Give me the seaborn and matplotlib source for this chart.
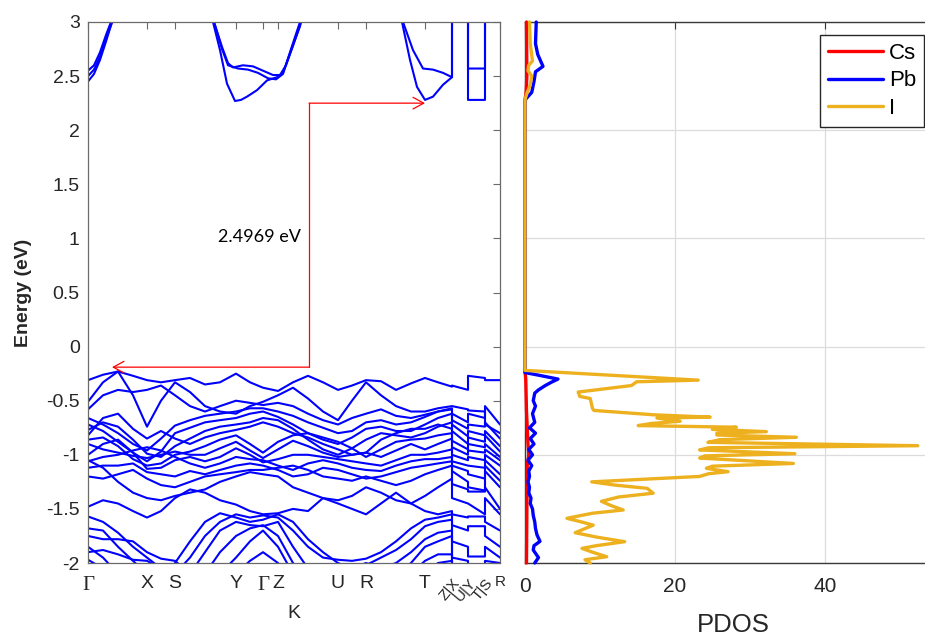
import numpy as np
import pandas as pd
import matplotlib
matplotlib.use("Agg")
import matplotlib.pyplot as plt
import seaborn as sns

# ---------------- data ----------------
K_TICKS = [0.0, 0.59, 0.87, 1.48, 1.75, 1.90, 2.50, 2.78, 3.37, 3.64, 3.80, 3.97, 4.12]
K_LABELS = ["Γ", "X", "S", "Y", "Γ", "Z", "U", "R", "T", "Z|X", "U|Y", "T|S", "R"]

# main path columns (Γ ... Z|X) and the short broken segments (X-U | U-T | S-R)
K_MAIN = [0.00, 0.15, 0.30, 0.45, 0.59, 0.73, 0.87, 1.02, 1.17, 1.32, 1.48, 1.62, 1.75,
          1.90, 2.05, 2.20, 2.35, 2.50, 2.64, 2.78, 2.93, 3.08, 3.23, 3.37, 3.50, 3.64]
K_TAIL = [3.64, 3.80, 3.80, 3.97, 3.97, 4.12]

# valence bands: energies (eV) along K_MAIN
VB_MAIN = [
    [-0.31, -0.26, -0.23, -0.27, -0.31, -0.33, -0.31, -0.29, -0.35, -0.33, -0.25, -0.33, -0.38, -0.41, -0.33, -0.27, -0.33, -0.40, -0.36, -0.31, -0.32, -0.40, -0.34, -0.29, -0.33, -0.37],
    [-0.51, -0.33, -0.23, -0.45, -0.74, -0.50, -0.33, -0.42, -0.55, -0.60, -0.62, -0.55, -0.51, -0.45, -0.38, -0.48, -0.60, -0.68, -0.50, -0.33, -0.45, -0.55, -0.60, -0.60, -0.57, -0.55],
    [-0.58, -0.45, -0.40, -0.42, -0.40, -0.36, -0.45, -0.55, -0.60, -0.55, -0.50, -0.52, -0.54, -0.52, -0.55, -0.62, -0.68, -0.72, -0.66, -0.62, -0.58, -0.64, -0.66, -0.63, -0.60, -0.58],
    [-0.66, -0.72, -0.80, -0.90, -0.96, -0.85, -0.73, -0.68, -0.64, -0.62, -0.60, -0.57, -0.57, -0.60, -0.64, -0.70, -0.75, -0.80, -0.78, -0.70, -0.68, -0.72, -0.70, -0.65, -0.60, -0.57],
    [-0.72, -0.78, -0.88, -0.98, -1.06, -0.97, -0.80, -0.75, -0.70, -0.68, -0.66, -0.62, -0.60, -0.65, -0.72, -0.80, -0.86, -0.90, -0.84, -0.76, -0.74, -0.78, -0.78, -0.72, -0.66, -0.62],
    [-0.77, -0.70, -0.74, -0.86, -0.99, -1.02, -0.92, -0.85, -0.78, -0.74, -0.72, -0.70, -0.66, -0.68, -0.76, -0.86, -0.95, -1.00, -0.94, -0.86, -0.80, -0.82, -0.84, -0.80, -0.74, -0.70],
    [-0.82, -0.66, -0.62, -0.76, -0.85, -0.78, -0.85, -0.90, -0.84, -0.80, -0.77, -0.74, -0.70, -0.74, -0.80, -0.84, -0.90, -0.95, -1.00, -0.98, -0.86, -0.80, -0.76, -0.76, -0.72, -0.76],
    [-0.86, -0.84, -0.92, -1.04, -1.10, -1.08, -1.00, -0.97, -0.92, -0.86, -0.82, -0.90, -0.98, -0.88, -0.82, -0.80, -0.84, -0.88, -0.94, -1.02, -0.95, -0.88, -0.86, -0.85, -0.82, -0.80],
    [-0.90, -0.95, -0.98, -1.01, -1.03, -1.00, -0.97, -1.00, -1.00, -0.94, -0.88, -0.96, -1.03, -0.95, -0.87, -0.92, -0.98, -1.02, -1.00, -0.98, -1.02, -0.96, -0.90, -0.95, -0.90, -0.85],
    [-1.00, -0.90, -0.86, -0.98, -1.13, -1.12, -1.05, -1.02, -1.06, -1.02, -0.94, -1.00, -1.07, -1.04, -1.00, -1.00, -1.02, -1.04, -1.06, -1.08, -1.10, -1.05, -1.00, -1.00, -0.98, -0.95],
    [-1.06, -1.02, -1.00, -0.96, -0.93, -0.96, -1.02, -1.08, -1.12, -1.08, -1.02, -1.04, -1.05, -1.10, -1.14, -1.08, -1.05, -1.08, -1.12, -1.14, -1.15, -1.10, -1.06, -1.04, -1.04, -1.02],
    [-1.12, -1.10, -1.10, -1.08, -1.16, -1.18, -1.20, -1.15, -1.18, -1.14, -1.10, -1.08, -1.10, -1.14, -1.20, -1.18, -1.12, -1.14, -1.18, -1.22, -1.20, -1.16, -1.12, -1.10, -1.08, -1.06],
    [-1.20, -1.22, -1.18, -1.14, -1.22, -1.28, -1.30, -1.25, -1.20, -1.18, -1.16, -1.14, -1.14, -1.12, -1.10, -1.14, -1.20, -1.22, -1.24, -1.20, -1.24, -1.28, -1.24, -1.18, -1.14, -1.10],
    [-1.05, -1.12, -1.25, -1.35, -1.40, -1.42, -1.38, -1.35, -1.32, -1.25, -1.20, -1.16, -1.18, -1.20, -1.30, -1.35, -1.40, -1.42, -1.38, -1.30, -1.35, -1.42, -1.45, -1.38, -1.30, -1.22],
    [-1.48, -1.42, -1.45, -1.52, -1.58, -1.52, -1.40, -1.32, -1.35, -1.42, -1.46, -1.52, -1.55, -1.54, -1.50, -1.52, -1.40, -1.45, -1.50, -1.55, -1.45, -1.35, -1.45, -1.52, -1.55, -1.52],
    [-1.57, -1.62, -1.72, -1.85, -1.95, -2.05, -2.10, -1.95, -1.75, -1.62, -1.55, -1.58, -1.56, -1.58, -1.70, -1.85, -1.95, -1.97, -1.98, -1.96, -1.90, -1.80, -1.68, -1.60, -1.58, -1.55],
    [-1.68, -1.70, -1.85, -1.98, -2.10, -2.15, -2.00, -1.80, -1.62, -1.54, -1.58, -1.62, -1.60, -1.55, -1.62, -1.78, -1.90, -2.00, -2.05, -2.02, -1.95, -1.88, -1.78, -1.66, -1.62, -1.60],
    [-1.75, -1.78, -1.78, -1.80, -1.90, -1.96, -1.98, -2.10, -1.90, -1.70, -1.62, -1.65, -1.66, -1.62, -1.85, -2.05, -2.10, -2.10, -2.05, -2.00, -2.05, -2.00, -1.90, -1.78, -1.72, -1.70],
    [-1.85, -1.95, -2.10, -2.20, -2.20, -2.20, -2.15, -2.05, -2.10, -1.90, -1.75, -1.68, -1.65, -1.75, -2.00, -2.20, -2.20, -2.20, -2.20, -2.20, -2.20, -2.10, -2.00, -1.85, -1.80, -1.75],
    [-1.90, -1.88, -1.92, -1.97, -1.98, -2.05, -2.15, -2.20, -2.20, -2.10, -1.95, -1.80, -1.70, -1.85, -2.10, -2.20, -2.20, -2.20, -2.20, -2.20, -2.20, -2.20, -2.10, -1.98, -1.92, -1.92],
    [-1.97, -2.05, -2.20, -2.20, -2.20, -2.20, -2.20, -2.20, -2.20, -2.20, -2.10, -1.98, -1.90, -2.00, -2.20, -2.20, -2.20, -2.20, -2.20, -2.20, -2.20, -2.20, -2.20, -2.10, -2.00, -1.98],
]
# valence bands: energies (eV) along K_TAIL
VB_TAIL = [
    [-0.36, -0.40, -0.27, -0.29, -0.31, -0.31],
    [-0.55, -0.58, -0.59, -0.60, -0.72, -0.80],
    [-0.62, -0.70, -0.62, -0.66, -0.55, -0.72],
    [-0.68, -0.76, -0.72, -0.74, -0.70, -0.85],
    [-0.72, -0.83, -0.78, -0.82, -0.78, -0.92],
    [-0.78, -0.90, -0.84, -0.88, -0.82, -0.97],
    [-0.87, -0.95, -0.90, -0.93, -0.90, -1.02],
    [-0.93, -1.00, -0.96, -0.98, -0.95, -1.05],
    [-1.00, -1.05, -1.02, -1.05, -1.00, -1.10],
    [-1.06, -1.10, -1.10, -1.12, -1.05, -1.18],
    [-1.10, -1.15, -1.18, -1.22, -1.10, -1.24],
    [-1.15, -1.25, -1.30, -1.33, -1.15, -1.30],
    [-1.27, -1.32, -1.34, -1.34, -1.30, -1.50],
    [-1.40, -1.45, -1.45, -1.55, -1.40, -1.55],
    [-1.55, -1.58, -1.57, -1.57, -1.62, -1.70],
    [-1.65, -1.70, -1.66, -1.66, -1.75, -1.85],
    [-1.80, -1.85, -1.94, -1.94, -1.85, -1.95],
    [-1.95, -1.98, -2.10, -2.10, -1.98, -2.00],
    [-2.05, -2.10, -2.15, -2.15, -2.10, -2.10],
    [-2.10, -2.15, -2.20, -2.20, -2.15, -2.15],
    [-2.15, -2.20, -2.20, -2.20, -2.20, -2.20],
]

# conduction bands (k, E) read individually
CB_G1_K = [0.00, 0.06, 0.12, 0.18, 0.24, 0.30]
CB_G1_E = [2.45, 2.52, 2.65, 2.82, 3.00, 3.20]
CB_G2_K = [0.00, 0.06, 0.12, 0.18, 0.25, 0.30]
CB_G2_E = [2.50, 2.56, 2.68, 2.85, 3.02, 3.20]
CB_G3_K = [0.00, 0.06, 0.12, 0.18, 0.25, 0.30]
CB_G3_E = [2.55, 2.60, 2.72, 2.88, 3.05, 3.20]
CB_Y1_K = [1.17, 1.25, 1.32, 1.39, 1.47, 1.53, 1.59, 1.69, 1.79, 1.89, 1.95, 2.02, 2.12, 2.20]
CB_Y1_E = [3.30, 3.00, 2.74, 2.43, 2.27, 2.28, 2.31, 2.37, 2.46, 2.49, 2.53, 2.71, 2.96, 3.30]
CB_Y2_K = [1.17, 1.26, 1.34, 1.40, 1.45, 1.55, 1.65, 1.75, 1.85, 1.92, 1.98, 2.05, 2.13, 2.20]
CB_Y2_E = [3.30, 3.00, 2.77, 2.62, 2.58, 2.60, 2.59, 2.55, 2.51, 2.51, 2.60, 2.78, 3.00, 3.30]
CB_Y3_K = [1.17, 1.26, 1.34, 1.40, 1.50, 1.60, 1.70, 1.80, 1.88, 1.95, 2.03, 2.12, 2.20]
CB_Y3_E = [3.30, 3.00, 2.75, 2.60, 2.57, 2.56, 2.53, 2.48, 2.47, 2.52, 2.75, 3.00, 3.30]
CB_T1_K = [3.05, 3.14, 3.22, 3.29, 3.37, 3.45, 3.55, 3.64, 3.64, 3.80, 3.80, 3.97, 3.97, 4.12]
CB_T1_E = [3.30, 3.00, 2.65, 2.40, 2.28, 2.31, 2.42, 2.49, 3.30, 3.30, 2.28, 2.28, 3.30, 3.30]
CB_T2_K = [3.05, 3.15, 3.25, 3.35, 3.45, 3.55, 3.64, 3.64, 3.80, 3.80, 3.97, 3.97, 4.12]
CB_T2_E = [3.30, 3.00, 2.74, 2.57, 2.56, 2.53, 2.49, 3.40, 3.40, 2.57, 2.57, 3.40, 3.40]

Y_TICKS = [-2, -1.5, -1, -0.5, 0, 0.5, 1, 1.5, 2, 2.5, 3]
Y_TICK_LABELS = ["-2", "-1.5", "-1", "-0.5", "0", "0.5", "1", "1.5", "2", "2.5", "3"]

GAP_TEXT = "2.4969 eV"

# PDOS (energy, states)
CS_E = [3.00, 2.50, 2.35, 2.28, -0.23, -0.30, -0.60, -0.90, -1.00, -1.10, -1.50, -2.00]
CS_DOS = [0.2, 0.25, 0.15, 0.0, 0.0, 0.1, 0.2, 0.4, 0.5, 0.3, 0.25, 0.2]

PB_E = [3.00, 2.80, 2.70, 2.59, 2.54, 2.45, 2.35, 2.28, -0.24, -0.26, -0.30, -0.33, -0.36, -0.40,
        -0.43, -0.50, -0.55, -0.62, -0.70, -0.75, -0.80, -0.85, -0.90, -0.95, -1.00, -1.05,
        -1.10, -1.15, -1.20, -1.25, -1.30, -1.35, -1.40, -1.45, -1.50, -1.56, -1.62, -1.68,
        -1.74, -1.80, -1.84, -1.88, -1.92, -1.95, -2.00]
PB_DOS = [1.5, 1.4, 1.7, 2.4, 1.4, 1.2, 0.9, 0.0, 0.0, 1.5, 4.4, 3.5, 2.7, 1.8,
          1.3, 1.1, 1.4, 1.0, 1.3, 0.6, 1.4, 0.7, 1.2, 0.5, 1.0, 0.4,
          0.9, 0.5, 0.6, 0.4, 0.6, 0.5, 0.8, 0.7, 1.0, 1.1, 1.3, 1.4,
          1.6, 2.0, 1.2, 1.1, 1.5, 1.8, 1.3]

I_E = [3.00, 2.80, 2.64, 2.60, 2.55, 2.50, 2.42, 2.33, 2.28, -0.22, -0.31, -0.325, -0.36,
       -0.42, -0.46, -0.48, -0.57, -0.59, -0.63, -0.64, -0.652, -0.66, -0.69, -0.71, -0.73,
       -0.745, -0.765, -0.786, -0.80, -0.817, -0.838, -0.86, -0.885, -0.916, -0.935, -0.955,
       -0.99, -1.01, -1.03, -1.08, -1.105, -1.125, -1.156, -1.175, -1.20, -1.25, -1.28,
       -1.31, -1.355, -1.39, -1.43, -1.47, -1.51, -1.54, -1.587, -1.62, -1.65, -1.72, -1.76,
       -1.803, -1.84, -1.865, -1.90, -1.942, -1.97, -2.00]
I_DOS = [0.6, 0.7, 1.0, 0.5, 0.4, 0.9, 0.7, 0.2, 0.0, 0.0, 23.1, 14.9, 14.2,
         7.1, 7.3, 8.7, 9.0, 9.2, 17.1, 20.5, 24.7, 17.6, 20.7, 16.9, 15.1,
         28.2, 25.0, 32.2, 25.6, 25.6, 36.2, 26.0, 24.4, 52.4, 24.5, 23.3,
         36.0, 24.0, 23.3, 35.8, 25.0, 24.2, 27.1, 24.5, 23.3, 8.9, 12.0,
         16.3, 17.1, 12.5, 10.2, 11.5, 13.1, 9.0, 5.6, 7.5, 9.1, 6.7, 9.5,
         13.3, 9.5, 7.6, 9.0, 10.9, 8.0, 8.7]

PDOS_TICKS = [0, 20, 40]
E_GRID = [-2, -1, 0, 1, 2, 3]

# ---------------- style ----------------
sns.set_theme(style="white")
plt.rcParams["font.family"] = ["Liberation Sans", "DejaVu Sans"]
plt.rcParams["axes.unicode_minus"] = False
TXT = "#262626"
SPINE = "#6a6a6a"

fig = plt.figure(figsize=(9.25, 6.35), dpi=100)
W, H = 925, 635
ax1 = fig.add_axes([88 / W, 1 - 563 / H, 412 / W, 541 / H])
ax2 = fig.add_axes([525 / W, 1 - 563 / H, 416 / W, 541 / H])

# ---------------- band structure ----------------
rows = []
k_all = K_MAIN + K_TAIL
for b, (main, tail) in enumerate(zip(VB_MAIN, VB_TAIL)):
    for k, e in zip(k_all, main + tail):
        rows.append((k, e, f"v{b}"))
cb_sets = [(CB_G1_K, CB_G1_E), (CB_G2_K, CB_G2_E), (CB_G3_K, CB_G3_E),
           (CB_Y1_K, CB_Y1_E), (CB_Y2_K, CB_Y2_E), (CB_Y3_K, CB_Y3_E),
           (CB_T1_K, CB_T1_E), (CB_T2_K, CB_T2_E)]
for j, (ks, es) in enumerate(cb_sets):
    for k, e in zip(ks, es):
        rows.append((k, e, f"c{j}"))
bands = pd.DataFrame(rows, columns=["k", "E", "band"])

sns.lineplot(data=bands, x="k", y="E", units="band", estimator=None, sort=False,
             color="#0000ff", linewidth=1.5, legend=False, ax=ax1)
for ln in ax1.lines:
    ln.set_solid_joinstyle("round")

ax1.set_xlim(K_TICKS[0], K_TICKS[-1])
ax1.set_ylim(-2, 3)
ax1.set_yticks(Y_TICKS)
ax1.set_yticklabels(Y_TICK_LABELS)
ax1.set_xticks(K_TICKS)
ax1.set_xticklabels(K_LABELS)
ax1.tick_params(axis="both", direction="in", length=5, width=0.8, color=SPINE,
                top=True, right=True, labelcolor=TXT)
ax1.tick_params(axis="y", labelsize=14, pad=6)
ax1.tick_params(axis="x", labelsize=14, pad=9)
for i, lab in enumerate(ax1.get_xticklabels()):
    if K_LABELS[i] == "Γ":
        lab.set_fontfamily(["Liberation Serif", "DejaVu Serif"])
        lab.set_fontsize(15)
    if "|" in K_LABELS[i]:
        lab.set_fontsize(11)
        lab.set_rotation(50)
        lab.set_ha("right")
        lab.set_va("top")
        lab.set_rotation_mode("anchor")
    if i == len(K_LABELS) - 1:
        lab.set_fontsize(11)
        lab.set_va("top")
for s in ax1.spines.values():
    s.set_color(SPINE)
    s.set_linewidth(0.9)
ax1.set_xlabel("K", fontsize=14, color=TXT)
ax1.xaxis.set_label_coords(0.5, -0.078)
ax1.set_ylabel("Energy (eV)", fontsize=14, fontweight="bold", color=TXT)
ax1.yaxis.set_label_coords(-0.135, 0.5)

# band-gap annotation
VB_ARROW_K, VB_ARROW_E = 0.24, -0.19
CB_ARROW_K, CB_ARROW_E = 3.37, 2.25
CORNER_K = 2.21
arrow_kw = dict(arrowstyle="->,head_length=0.55,head_width=0.3", color="red",
                lw=0.9, shrinkA=0, shrinkB=0, mutation_scale=14)
ax1.annotate("", xy=(VB_ARROW_K, VB_ARROW_E), xytext=(CORNER_K, VB_ARROW_E), arrowprops=arrow_kw)
ax1.annotate("", xy=(CB_ARROW_K, CB_ARROW_E), xytext=(CORNER_K, CB_ARROW_E), arrowprops=arrow_kw)
ax1.plot([CORNER_K, CORNER_K], [VB_ARROW_E, CB_ARROW_E], color="red", lw=0.9)
ax1.text(1.30, 1.01, GAP_TEXT, fontsize=13, family=["Lato", "DejaVu Sans"],
         color="black", ha="left", va="center")

# ---------------- PDOS ----------------
sns.lineplot(x=CS_DOS, y=CS_E, orient="y", sort=False, estimator=None,
             color="#ff0000", linewidth=2.4, label="Cs", ax=ax2)
sns.lineplot(x=PB_DOS, y=PB_E, orient="y", sort=False, estimator=None,
             color="#0000ff", linewidth=2.4, label="Pb", ax=ax2)
sns.lineplot(x=I_DOS, y=I_E, orient="y", sort=False, estimator=None,
             color="#edb120", linewidth=2.4, label="I", ax=ax2)
for ln in ax2.lines:
    ln.set_zorder(3)
    ln.set_clip_on(False)

ax2.set_xlim(0, 55.5)
ax2.set_ylim(-2, 3)
ax2.set_xticks(PDOS_TICKS)
ax2.set_xticklabels([str(t) for t in PDOS_TICKS])
ax2.set_yticks(E_GRID)
ax2.set_yticklabels([])
ax2.set_ylabel("")
ax2.grid(True, color="#dcdcdc", linewidth=0.9)
ax2.set_axisbelow(True)
ax2.tick_params(axis="both", direction="in", length=5, width=0.8, color="#333333",
                top=True, right=True, labelcolor=TXT)
ax2.tick_params(axis="x", labelsize=15, pad=10)
for s in ax2.spines.values():
    s.set_color("#3a3a3a")
    s.set_linewidth(1.0)
ax2.set_xlabel("PDOS", fontsize=18.5, color=TXT)
ax2.xaxis.set_label_coords(0.5, -0.092)

leg = ax2.legend(loc="upper right", bbox_to_anchor=(924 / W, 1 - 35 / H),
                 bbox_transform=fig.transFigure, borderaxespad=0, frameon=True,
                 fancybox=False, fontsize=16, handlelength=2.5, handletextpad=0.25,
                 labelspacing=0.3, borderpad=0.35)
leg.get_frame().set_edgecolor("#262626")
leg.get_frame().set_linewidth(1.0)
leg.get_frame().set_alpha(1)
for t in leg.get_texts():
    t.set_color("black")

fig.savefig("out.png", dpi=100)
